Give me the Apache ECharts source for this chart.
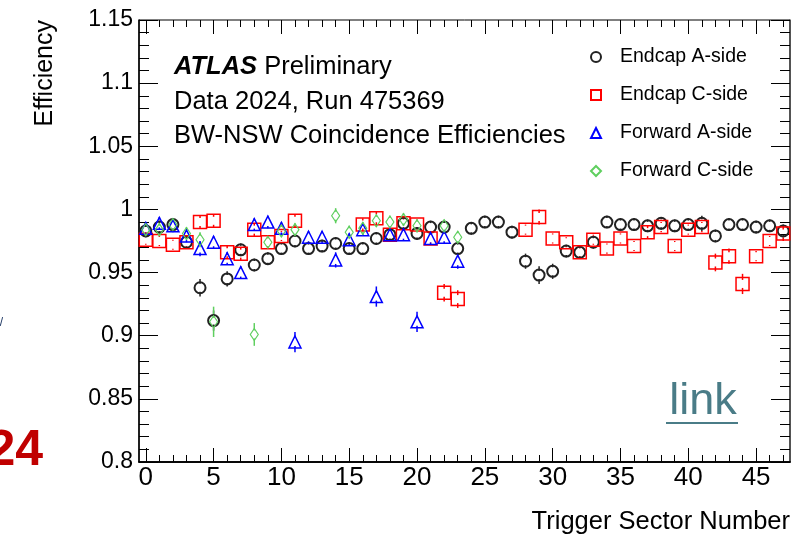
<!DOCTYPE html>
<html>
<head>
<meta charset="utf-8">
<script src="https://cdn.jsdelivr.net/npm/echarts@6/dist/echarts.min.js"></script>
<style>
  html, body { margin: 0; padding: 0; background: #fff; }
  #chart { width: 808px; height: 537px; }
</style>
</head>
<body>
<div id="chart"></div>
<script>
// trigger sectors 0..47
var sectors = ['0','1','2','3','4','5','6','7','8','9','10','11','12','13','14','15',
  '16','17','18','19','20','21','22','23','24','25','26','27','28','29','30','31',
  '32','33','34','35','36','37','38','39','40','41','42','43','44','45','46','47']

var endcapA = [0.983, 0.986, 0.988, 0.974, 0.938, 0.912, 0.945, 0.968, 0.956, 0.961, 0.969, 0.975,
  0.969, 0.971, 0.973, 0.969, 0.969, 0.977, 0.980, 0.989, 0.981, 0.986, 0.986, 0.969,
  0.985, 0.990, 0.990, 0.982, 0.959, 0.948, 0.951, 0.967, 0.966, 0.974, 0.990, 0.988,
  0.988, 0.987, 0.989, 0.987, 0.988, 0.989, 0.979, 0.988, 0.988, 0.986, 0.987, 0.983]
var endcapAErr = [0.005, 0.005, 0.005, 0.005, 0.007, 0.008, 0.006, 0.005, 0.005, 0.005, 0.005, 0.005,
  0.005, 0.005, 0.005, 0.005, 0.005, 0.005, 0.005, 0.005, 0.005, 0.005, 0.005, 0.005,
  0.005, 0.005, 0.005, 0.005, 0.006, 0.007, 0.006, 0.005, 0.005, 0.005, 0.005, 0.005,
  0.005, 0.005, 0.005, 0.005, 0.005, 0.006, 0.005, 0.005, 0.005, 0.005, 0.005, 0.005]

var endcapC = [0.976, 0.975, 0.972, 0.974, 0.990, 0.991, 0.966, 0.965, 0.984, 0.974, 0.979, 0.991,
  null, null, null, null, 0.988, 0.993, 0.980, 0.989, 0.988, 0.977, 0.934, 0.929,
  null, null, null, null, 0.984, 0.994, 0.977, 0.974, 0.966, 0.976, 0.969, 0.977,
  0.971, 0.982, 0.986, 0.971, 0.984, 0.986, 0.958, 0.963, 0.941, 0.963, 0.975, 0.981]
var endcapCErr = [0.004, 0.004, 0.004, 0.004, 0.005, 0.005, 0.005, 0.005, 0.005, 0.004, 0.004, 0.005,
  0, 0, 0, 0, 0.005, 0.005, 0.004, 0.004, 0.004, 0.004, 0.007, 0.007,
  0, 0, 0, 0, 0.004, 0.006, 0.004, 0.004, 0.005, 0.004, 0.004, 0.004,
  0.004, 0.005, 0.004, 0.004, 0.004, 0.004, 0.007, 0.006, 0.008, 0.004, 0.004, 0.006]

var forwardA = [0.985, 0.989, 0.987, 0.979, 0.969, 0.974, 0.961, 0.950, 0.988, 0.990, 0.985, 0.895,
  0.978, 0.978, 0.960, 0.976, 0.984, 0.931, 0.980, 0.980, 0.911, 0.977, 0.978, 0.959]
var forwardAErr = [0.005, 0.005, 0.005, 0.005, 0.006, 0.005, 0.005, 0.005, 0.005, 0.005, 0.005, 0.008,
  0.005, 0.005, 0.006, 0.005, 0.005, 0.008, 0.005, 0.005, 0.008, 0.005, 0.005, 0.006]

var forwardC = [0.984, 0.984, 0.988, 0.981, 0.976, 0.911, null, null, 0.901, 0.974, 0.983, 0.984,
  null, null, 0.995, 0.982, 0.985, 0.991, 0.990, 0.992, 0.987, null, 0.987, 0.978]
var forwardCErr = [0.005, 0.005, 0.005, 0.005, 0.006, 0.012, 0, 0, 0.009, 0.005, 0.005, 0.005,
  0, 0, 0.006, 0.005, 0.005, 0.005, 0.005, 0.005, 0.005, 0, 0.005, 0.005]

var FONT = '"Liberation Sans", Arial, Helvetica, sans-serif'

var chart = echarts.init(document.getElementById('chart'), null, { renderer: 'canvas' })

function errorBars(vals, errs, color, z) {
  var d = []
  vals.forEach(function(v, i) {
    if (v != null && errs[i] > 0) d.push([i, v, errs[i]])
  })
  return {
    type: 'custom',
    xAxisIndex: 0,
    yAxisIndex: 0,
    silent: true,
    z: z,
    data: d,
    renderItem: function(params, api) {
      var i = api.value(0), v = api.value(1), e = api.value(2)
      var c = api.coord([i, v])
      var top = api.coord([i, v + e])
      var bot = api.coord([i, v - e])
      var gap = 4
      var kids = []
      if (c[1] - top[1] > gap) {
        kids.push({ type: 'line', shape: { x1: c[0], y1: top[1], x2: c[0], y2: c[1] - gap },
          style: { stroke: color, lineWidth: 1.5 } })
      }
      if (bot[1] - c[1] > gap) {
        kids.push({ type: 'line', shape: { x1: c[0], y1: c[1] + gap, x2: c[0], y2: bot[1] },
          style: { stroke: color, lineWidth: 1.5 } })
      }
      return { type: 'group', children: kids }
    }
  }
}

function markers(name, vals, symbol, size, color, width, z) {
  return {
    name: name,
    type: 'scatter',
    xAxisIndex: 0,
    yAxisIndex: 0,
    symbol: symbol,
    symbolSize: size,
    z: z,
    data: vals,
    itemStyle: { color: 'rgba(0,0,0,0)', borderColor: color, borderWidth: width, opacity: 1 }
  }
}

function xAxisBase(pos, major, showLabel) {
  return {
    type: 'category',
    position: pos,
    data: sectors,
    boundaryGap: true,
    axisLine: { show: pos === 'bottom', lineStyle: { color: '#000', width: 1.5 } },
    axisTick: {
      show: true, inside: true, alignWithLabel: true,
      interval: major ? 4 : 0,
      length: major ? 14 : 7,
      lineStyle: { color: '#000', width: 1 }
    },
    axisLabel: {
      show: showLabel, interval: 4, margin: 3,
      fontFamily: FONT, fontSize: 26, color: '#000'
    },
    splitLine: { show: false }
  }
}

function yAxisBase(pos, showLabel) {
  return {
    type: 'value',
    position: pos,
    min: 0.8,
    max: 1.15,
    interval: 0.05,
    axisLine: { show: true, lineStyle: { color: pos === 'left' ? '#000' : '#444', width: 1.5 } },
    axisTick: { show: true, inside: true, length: 19, lineStyle: { color: '#000', width: 1 } },
    minorTick: { show: true, splitNumber: 5, length: 10, lineStyle: { color: '#000', width: 1 } },
    axisLabel: { show: showLabel, margin: 6, fontFamily: FONT, fontSize: 23, color: '#000' },
    splitLine: { show: false },
    minorSplitLine: { show: false }
  }
}

chart.setOption({
  animation: false,
  backgroundColor: '#fff',
  grid: {
    left: 139, right: 18, top: 20, bottom: 75,
    show: true, borderColor: '#000', borderWidth: 1, backgroundColor: 'transparent'
  },
  xAxis: [
    xAxisBase('bottom', false, false),
    xAxisBase('bottom', true, true),
    xAxisBase('top', false, false),
    xAxisBase('top', true, false)
  ],
  yAxis: [
    yAxisBase('left', true),
    yAxisBase('right', false)
  ],
  legend: {
    orient: 'vertical',
    left: 585,
    top: 42,
    itemWidth: 10,
    itemHeight: 10,
    itemGap: 18,
    selectedMode: false,
    textStyle: { fontFamily: FONT, fontSize: 19.5, color: '#000', padding: [0, 0, 0, 14] },
    data: ['Endcap A-side', 'Endcap C-side', 'Forward A-side', 'Forward C-side']
  },
  series: [
    errorBars(endcapA, endcapAErr, '#222', 2),
    errorBars(endcapC, endcapCErr, '#ff0000', 2),
    errorBars(forwardA, forwardAErr, '#0000ff', 2),
    errorBars(forwardC, forwardCErr, '#5fcf5f', 2),
    markers('Endcap A-side', endcapA, 'circle', 11, '#222', 2, 3),
    markers('Endcap C-side', endcapC, 'rect', 13, '#ff0000', 1.5, 4),
    markers('Forward A-side', forwardA, 'triangle', 12, '#0000ff', 1.5, 5),
    markers('Forward C-side', forwardC, 'diamond', [8, 12], '#5fcf5f', 1.2, 6)
  ],
  graphic: [
    { type: 'text', x: 174, y: 67, z: 10,
      style: { text: '{b|ATLAS} Preliminary', font: '25.5px ' + FONT, fill: '#000', verticalAlign: 'middle',
        rich: { b: { fontFamily: FONT, fontSize: 25.5, fontWeight: 'bold', fontStyle: 'italic', fill: '#000' } } } },
    { type: 'text', x: 174, y: 101.5, z: 10,
      style: { text: 'Data 2024, Run 475369', font: '25.5px ' + FONT, fill: '#000', verticalAlign: 'middle' } },
    { type: 'text', x: 174, y: 136, z: 10,
      style: { text: 'BW-NSW Coincidence Efficiencies', font: '25.5px ' + FONT, fill: '#000', verticalAlign: 'middle' } },
    { type: 'text', x: 45, y: 20, rotation: Math.PI / 2, z: 10,
      style: { text: 'Efficiency', font: '25px ' + FONT, fill: '#000', align: 'right', verticalAlign: 'middle' } },
    { type: 'text', x: 790, y: 522, z: 10,
      style: { text: 'Trigger Sector Number', font: '25.5px ' + FONT, fill: '#000', align: 'right', verticalAlign: 'middle' } },
    { type: 'text', x: 703, y: 402, z: 10,
      style: { text: 'link', font: '45px ' + FONT, fill: '#4a7c87', align: 'center', verticalAlign: 'middle' } },
    { type: 'line', z: 10, shape: { x1: 666, y1: 423, x2: 738, y2: 423 },
      style: { stroke: '#4a7c87', lineWidth: 2 } },
    { type: 'text', x: 43, y: 451, z: 10,
      style: { text: '24', font: 'bold 50px ' + FONT, fill: '#c00000', align: 'right', verticalAlign: 'middle' } },
    { type: 'text', x: 3, y: 323, z: 10,
      style: { text: '/', font: '12px ' + FONT, fill: '#1f3864', align: 'right', verticalAlign: 'middle' } }
  ]
})
</script>
</body>
</html>
